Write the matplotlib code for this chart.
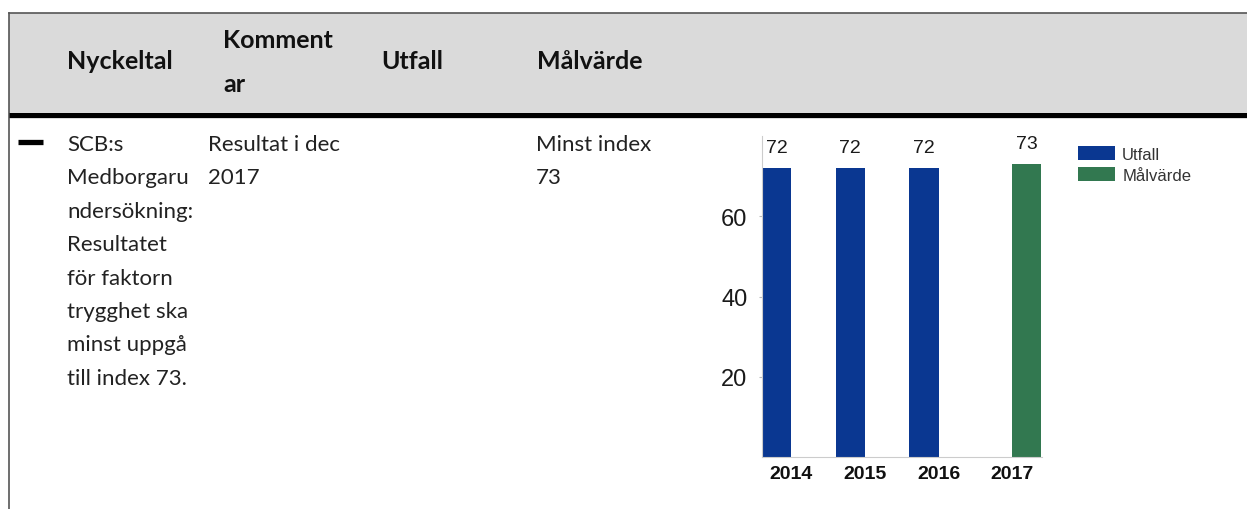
import matplotlib
matplotlib.use("Agg")
import matplotlib.pyplot as plt
from matplotlib.patches import Rectangle

# header / table text
header_labels = ["Nyckeltal", "Komment\nar", "Utfall", "Målvärde"]
nyckeltal_lines = ["SCB:s", "Medborgaru", "ndersökning:", "Resultatet",
                   "för faktorn", "trygghet ska", "minst uppgå", "till index 73."]
kommentar_lines = ["Resultat i dec", "2017"]
malvarde_lines = ["Minst index", "73"]

# chart data
utfall_years = [2014, 2015, 2016]
utfall_values = [72, 72, 72]
malvarde_years = [2017]
malvarde_values = [73]
year_ticks = [2014, 2015, 2016, 2017]

W, H = 1247, 510
BLUE = "#0a3791"
GREEN = "#327850"
table_font = "Lato"
chart_font = "Liberation Sans"

fig = plt.figure(figsize=(W / 100, H / 100), dpi=100)

# background axes in pixel coordinates
bg = fig.add_axes([0, 0, 1, 1])
bg.set_xlim(0, W)
bg.set_ylim(H, 0)
bg.axis("off")

bg.add_patch(Rectangle((9, 14), W - 9, 99, facecolor="#dadada", edgecolor="none"))
bg.plot([9, W], [14, 14], color="#555555", lw=1.2)
bg.plot([9, 9], [14, H], color="#555555", lw=1.2)
bg.plot([9, W], [115.5, 115.5], color="black", lw=3.8, solid_capstyle="butt")
bg.plot([18, 43], [142.5, 142.5], color="black", lw=3.8, solid_capstyle="butt")

hdr = dict(fontsize=18, fontweight="bold", family=table_font, color="#111111", va="baseline")
bg.text(67, 69, header_labels[0], **hdr)
komment, ar = header_labels[1].split("\n")
bg.text(223, 48, komment, **hdr)
bg.text(223, 92, ar, **hdr)
bg.text(381, 69, header_labels[2], **hdr)
bg.text(537, 69, header_labels[3], **hdr)

body = dict(fontsize=16, family=table_font, color="#222222", va="baseline")
step = 33.4
for i, line in enumerate(nyckeltal_lines):
    bg.text(67, 151 + i * step, line, **body)
for i, line in enumerate(kommentar_lines):
    bg.text(208, 151 + i * step, line, **body)
for i, line in enumerate(malvarde_lines):
    bg.text(536, 151 + i * step, line, **body)

# bar chart
x0, x1 = 762, 1041.5
y0, y1 = 458, 137
ax = fig.add_axes([x0 / W, (H - y0) / H, (x1 - x0) / W, (y0 - y1) / H])
ax.patch.set_alpha(0)
b1 = ax.bar([y - 0.2 for y in utfall_years], utfall_values, 0.4, color=BLUE, label="Utfall")
b2 = ax.bar([y + 0.2 for y in malvarde_years], malvarde_values, 0.4, color=GREEN, label="Målvärde")
for bars in (b1, b2):
    ax.bar_label(bars, padding=9, fontsize=14, family=chart_font, color="#1a1a1a")

ax.set_xlim(2013.6, 2017.4)
ax.set_ylim(0, 80)
ax.set_yticks([20, 40, 60])
ax.set_xticks(year_ticks)
ax.set_xticklabels([str(y) for y in year_ticks], fontsize=14, family=chart_font,
                   color="#111111", fontweight="bold")
for lbl in ax.get_yticklabels():
    lbl.set_fontsize(17)
    lbl.set_family(chart_font)
    lbl.set_color("#1a1a1a")
ax.tick_params(axis="x", length=0, pad=6)
ax.tick_params(axis="y", length=2.5, color="#bbbbbb", pad=8)
for s in ("top", "right"):
    ax.spines[s].set_visible(False)
ax.spines["left"].set_color("#cccccc")
ax.spines["bottom"].set_color("#cccccc")
ax.spines["left"].set_linewidth(0.8)
ax.spines["bottom"].set_linewidth(0.8)

leg = ax.legend(loc="upper left", bbox_to_anchor=(1078 / W, (H - 147) / H),
                bbox_transform=fig.transFigure, frameon=False,
                prop={"family": chart_font, "size": 12},
                handlelength=2.2, handleheight=0.95, handletextpad=0.45,
                labelspacing=0.3, borderpad=0, borderaxespad=0)
for t in leg.get_texts():
    t.set_color("#333333")

fig.savefig("out.png", dpi=100)
